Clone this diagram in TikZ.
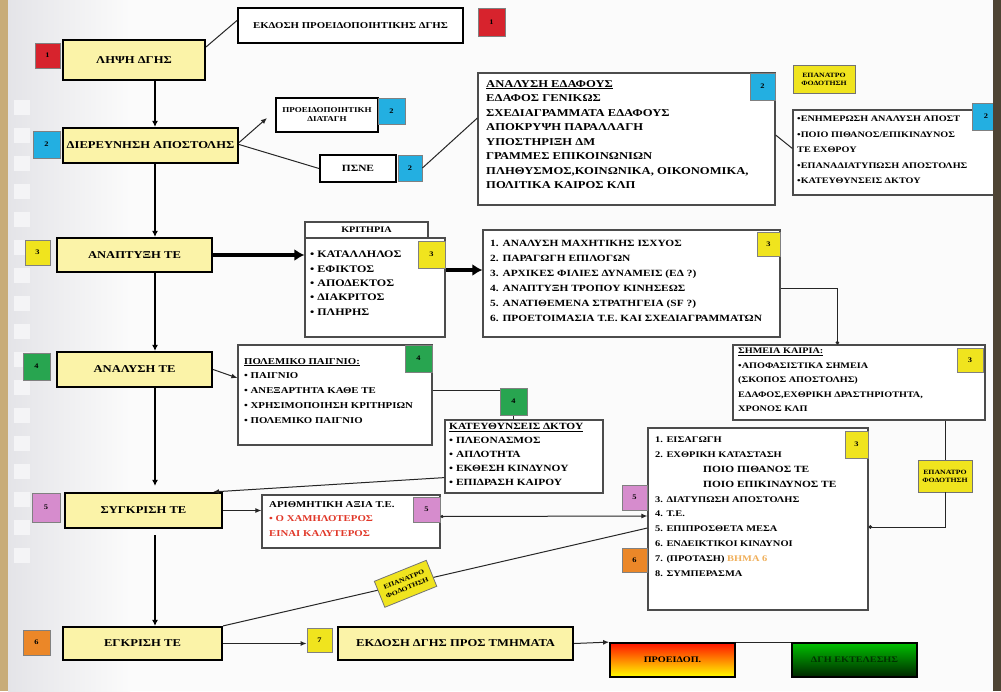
\documentclass[tikz,border=0pt]{standalone}
\usepackage{fontspec}
\setmainfont{Liberation Serif}[FakeStretch=1.2]
\usetikzlibrary{arrows.meta,calc}
\definecolor{mainY}{RGB}{251,243,168}
\definecolor{bRed}{RGB}{215,35,45}
\definecolor{bBlue}{RGB}{35,175,225}
\definecolor{bYel}{RGB}{240,228,30}
\definecolor{bGreen}{RGB}{40,165,80}
\definecolor{bPink}{RGB}{214,140,205}
\definecolor{bOrange}{RGB}{235,135,40}
\definecolor{txtRed}{RGB}{225,55,40}
\definecolor{txtOrange}{RGB}{240,175,90}
\definecolor{tanedge}{RGB}{200,172,120}
\definecolor{darkedge}{RGB}{78,68,52}
\definecolor{paper}{RGB}{251,251,251}
\definecolor{stripc}{RGB}{228,228,232}
\newcommand\myfs[2]{\fontsize{#1}{#2}\selectfont}
\newcommand\bx[7]{\node[#2, minimum width={(#5-#3)*1pt}, minimum height={(#6-#4)*1pt}] (#1) at ({(#3+#5)/2},{(#4+#6)/2}) {#7};}
\begin{document}
\begin{tikzpicture}[x=1pt,y=-1pt,
  mainbox/.style={draw=black, line width=2.2pt, fill=mainY, inner sep=0pt, font=\bfseries\myfs{10.5}{12}},
  thickbox/.style={draw=black, line width=2pt, fill=white, inner sep=0pt, align=center, font=\bfseries\myfs{9}{10}},
  wbox/.style={draw=black!70, line width=1.2pt, fill=white, inner sep=0pt},
  badge/.style={draw=black!50, line width=0.8pt, inner sep=0pt, font=\bfseries\myfs{7}{8}},
  yellabel/.style={draw=black!55, line width=0.8pt, fill=bYel, inner sep=0pt, align=center, font=\bfseries\myfs{6.5}{8}},
  txt/.style={anchor=north west, inner sep=0pt, align=left},
  link/.style={draw=black!85, line width=1pt},
  spine/.style={draw=black, line width=1.8pt, -{Latex[length=6pt,width=6pt]}},
  tip/.style={-{Latex[length=6pt,width=5pt]}},
  fat/.style={draw=black, line width=3.5pt, -{Latex[length=10pt,width=12pt]}},
]
\useasboundingbox (0,0) rectangle (1001,691);
% background
\fill[paper] (0,0) rectangle (1001,691);
\shade[left color=stripc, right color=paper] (8,0) rectangle (130,691);
\foreach \yy in {100,128,...,560} \fill[white!60!stripc] (14,\yy) rectangle (30,\yy+15);
\fill[tanedge] (0,0) rectangle (8,691);

% main column
\bx{lipsi}{mainbox}{63}{40}{205}{80}{ΛΗΨΗ ΔΓΗΣ}
\bx{dier}{mainbox}{63}{128}{238}{163}{ΔΙΕΡΕΥΝΗΣΗ ΑΠΟΣΤΟΛΗΣ}
\bx{anapt}{mainbox}{57}{238}{212}{272}{ΑΝΑΠΤΥΞΗ ΤΕ}
\bx{anal}{mainbox}{57}{352}{212}{387}{ΑΝΑΛΥΣΗ ΤΕ}
\bx{sygk}{mainbox}{65}{493}{222}{528}{ΣΥΓΚΡΙΣΗ ΤΕ}
\bx{egk}{mainbox}{63}{627}{222}{660}{ΕΓΚΡΙΣΗ ΤΕ}
\bx{ekd}{mainbox}{338}{627}{573}{660}{ΕΚΔΟΣΗ ΔΓΗΣ ΠΡΟΣ ΤΜΗΜΑΤΑ}

\bx{b1}{badge,fill=bRed}{35}{43}{60}{68}{1}
\bx{b2}{badge,fill=bBlue}{33}{131}{60}{158}{2}
\bx{b3}{badge,fill=bYel}{25}{240}{50}{265}{3}
\bx{b4}{badge,fill=bGreen}{23}{353}{50}{380}{4}
\bx{b5}{badge,fill=bPink}{32}{493}{60}{522}{5}
\bx{b6}{badge,fill=bOrange}{23}{630}{50}{655}{6}
\bx{b7}{badge,fill=bYel}{307}{628}{332}{652}{7}

% top boxes
\bx{ekdP}{thickbox}{238}{8}{463}{43}{ΕΚΔΟΣΗ ΠΡΟΕΙΔΟΠΟΙΗΤΙΚΗΣ ΔΓΗΣ}
\bx{b1r}{badge,fill=bRed}{478}{8}{505}{36}{1}
\bx{proeid}{thickbox,font=\bfseries\myfs{7.5}{9}}{276}{98}{378}{132}{ΠΡΟΕΙΔΟΠΟΙΗΤΙΚΗ\\ΔΙΑΤΑΓΗ}
\bx{b2p}{badge,fill=bBlue}{378}{98}{405}{124}{2}
\bx{psne}{thickbox,font=\bfseries\myfs{9.5}{10}}{320}{155}{396}{182}{ΠΣΝΕ}
\bx{b2s}{badge,fill=bBlue}{398}{155}{422}{181}{2}

\bx{edafos}{wbox}{478}{73}{775}{205}{}
\node[txt, font=\bfseries\myfs{10.5}{14.5}] (edafosT) at (486,80) {\underline{ΑΝΑΛΥΣΗ ΕΔΑΦΟΥΣ}\\ΕΔΑΦΟΣ ΓΕΝΙΚΩΣ\\ΣΧΕΔΙΑΓΡΑΜΜΑΤΑ ΕΔΑΦΟΥΣ\\ΑΠΟΚΡΥΨΗ ΠΑΡΑΛΛΑΓΗ\\ΥΠΟΣΤΗΡΙΞΗ ΔΜ\\ΓΡΑΜΜΕΣ ΕΠΙΚΟΙΝΩΝΙΩΝ\\ΠΛΗΘΥΣΜΟΣ,ΚΟΙΝΩΝΙΚΑ, ΟΙΚΟΝΟΜΙΚΑ,\\ΠΟΛΙΤΙΚΑ ΚΑΙΡΟΣ ΚΛΠ};
\bx{b2e}{badge,fill=bBlue}{750}{73}{775}{100}{2}

\bx{epan1}{yellabel}{793}{65}{855}{93}{ΕΠΑΝΑΤΡΟ\\ΦΟΔΟΤΗΣΗ}

\bx{enim}{wbox}{793}{110}{1012}{195}{}
\node[txt, font=\bfseries\myfs{8.5}{15.5}] (enimT) at (797,116) {•ΕΝΗΜΕΡΩΣΗ ΑΝΑΛΥΣΗ ΑΠΟΣΤ\\•ΠΟΙΟ ΠΙΘΑΝΟΣ/ΕΠΙΚΙΝΔΥΝΟΣ\\ΤΕ ΕΧΘΡΟΥ\\•ΕΠΑΝΑΔΙΑΤΥΠΩΣΗ ΑΠΟΣΤΟΛΗΣ\\•ΚΑΤΕΥΘΥΝΣΕΙΣ ΔΚΤΟΥ};
\bx{b2n}{badge,fill=bBlue}{972}{103}{1000}{130}{2}

% criteria
\bx{kritH}{wbox}{305}{222}{428}{238}{\bfseries\myfs{8.5}{9}ΚΡΙΤΗΡΙΑ}
\bx{krit}{wbox}{305}{238}{445}{337}{}
\node[txt, font=\bfseries\myfs{10}{14.3}] (kritT) at (310,251) {• ΚΑΤΑΛΛΗΛΟΣ\\• ΕΦΙΚΤΟΣ\\• ΑΠΟΔΕΚΤΟΣ\\• ΔΙΑΚΡΙΤΟΣ\\• ΠΛΗΡΗΣ};
\bx{b3k}{badge,fill=bYel}{418}{241}{445}{268}{3}

\bx{list3}{wbox}{483}{230}{780}{337}{}
\node[txt, font=\bfseries\myfs{9.5}{15}] (list3T) at (490,240) {1. ΑΝΑΛΥΣΗ ΜΑΧΗΤΙΚΗΣ ΙΣΧΥΟΣ\\2. ΠΑΡΑΓΩΓΗ ΕΠΙΛΟΓΩΝ\\3. ΑΡΧΙΚΕΣ ΦΙΛΙΕΣ ΔΥΝΑΜΕΙΣ (ΕΔ ?)\\4. ΑΝΑΠΤΥΞΗ ΤΡΟΠΟΥ ΚΙΝΗΣΕΩΣ\\5. ΑΝΑΤΙΘΕΜΕΝΑ ΣΤΡΑΤΗΓΕΙΑ (SF ?)\\6. ΠΡΟΕΤΟΙΜΑΣΙΑ Τ.Ε. ΚΑΙ ΣΧΕΔΙΑΓΡΑΜΜΑΤΩΝ};
\bx{b3l}{badge,fill=bYel}{757}{232}{780}{256}{3}

\bx{kairia}{wbox}{733}{345}{985}{420}{}
\node[txt, font=\bfseries\myfs{8.5}{14.5}] (kairiaT) at (738,348) {\underline{ΣΗΜΕΙΑ ΚΑΙΡΙΑ:}\\•ΑΠΟΦΑΣΙΣΤΙΚΑ ΣΗΜΕΙΑ\\(ΣΚΟΠΟΣ ΑΠΟΣΤΟΛΗΣ)\\ΕΔΑΦΟΣ,ΕΧΘΡΙΚΗ ΔΡΑΣΤΗΡΙΟΤΗΤΑ,\\ΧΡΟΝΟΣ ΚΛΠ};
\bx{b3c}{badge,fill=bYel}{957}{348}{983}{372}{3}

% war game
\bx{polem}{wbox}{238}{345}{432}{445}{}
\node[txt, font=\bfseries\myfs{9}{14.8}] (polemT) at (244,358) {\underline{ΠΟΛΕΜΙΚΟ ΠΑΙΓΝΙΟ:}\\• ΠΑΙΓΝΙΟ\\• ΑΝΕΞΑΡΤΗΤΑ ΚΑΘΕ ΤΕ\\• ΧΡΗΣΙΜΟΠΟΙΗΣΗ ΚΡΙΤΗΡΙΩΝ\\• ΠΟΛΕΜΙΚΟ ΠΑΙΓΝΙΟ};
\bx{b4p}{badge,fill=bGreen}{405}{345}{432}{372}{4}

\bx{kateu}{wbox}{445}{420}{603}{493}{}
\node[txt, font=\bfseries\myfs{9.5}{14}] (kateuT) at (449,423) {\underline{ΚΑΤΕΥΘΥΝΣΕΙΣ ΔΚΤΟΥ}\\• ΠΛΕΟΝΑΣΜΟΣ\\• ΑΠΛΟΤΗΤΑ\\• ΕΚΘΕΣΗ ΚΙΝΔΥΝΟΥ\\• ΕΠΙΔΡΑΣΗ ΚΑΙΡΟΥ};

\bx{arith}{wbox}{262}{495}{440}{548}{}
\node[txt, font=\bfseries\myfs{9}{14.5}] (arithT) at (269,501) {ΑΡΙΘΜΗΤΙΚΗ ΑΞΙΑ Τ.Ε.\\\textcolor{txtRed}{• Ο ΧΑΜΗΛΟΤΕΡΟΣ}\\\textcolor{txtRed}{ΕΙΝΑΙ ΚΑΛΥΤΕΡΟΣ}};
\bx{b5a}{badge,fill=bPink}{413}{497}{440}{522}{5}

\bx{big}{wbox}{648}{428}{868}{610}{}
\node[txt, font=\bfseries\myfs{8.7}{14.8}] (bigT) at (655,437) {1. ΕΙΣΑΓΩΓΗ\\2. ΕΧΘΡΙΚΗ ΚΑΤΑΣΤΑΣΗ\\\hspace*{48pt}{\myfs{9.5}{14.8}ΠΟΙΟ ΠΙΘΑΝΟΣ ΤΕ}\\\hspace*{48pt}{\myfs{9.5}{14.8}ΠΟΙΟ ΕΠΙΚΙΝΔΥΝΟΣ ΤΕ}\\3. ΔΙΑΤΥΠΩΣΗ ΑΠΟΣΤΟΛΗΣ\\4. Τ.Ε.\\5. ΕΠΙΠΡΟΣΘΕΤΑ ΜΕΣΑ\\6. ΕΝΔΕΙΚΤΙΚΟΙ ΚΙΝΔΥΝΟΙ\\7. (ΠΡΟΤΑΣΗ) \textcolor{txtOrange}{ΒΗΜΑ 6}\\8. ΣΥΜΠΕΡΑΣΜΑ};
\bx{b3b}{badge,fill=bYel}{845}{431}{868}{458}{3}
\bx{b5b}{badge,fill=bPink}{622}{485}{647}{510}{5}
\bx{b6b}{badge,fill=bOrange}{622}{548}{647}{572}{6}

\bx{epan2}{yellabel}{918}{460}{972}{492}{ΕΠΑΝΑΤΡΟ\\ΦΟΔΟΤΗΣΗ}

% bottom result boxes
\bx{proe}{draw=black, line width=1.8pt, top color=red!85!orange, middle color=orange!90!yellow, bottom color=yellow, inner sep=0pt, font=\bfseries\myfs{8.5}{9}}{610}{643}{735}{677}{ΠΡΟΕΙΔΟΠ.}
\bx{dgi}{draw=black, line width=1.8pt, top color=green!75!black, bottom color=black!85!green, inner sep=0pt, font=\bfseries\myfs{8.5}{9}, text=black!80!green}{792}{643}{917}{677}{ΔΓΗ ΕΚΤΕΛΕΣΗΣ}

% connectors
\coordinate (sx) at (155,0);
\coordinate (kx) at (513.5,0);
\draw[spine] (lipsi.south -| sx) -- (dier.north -| sx);
\draw[spine] (dier.south -| sx) -- (anapt.north -| sx);
\draw[spine] (anapt.south -| sx) -- (anal.north -| sx);
\draw[spine] (anal.south -| sx) -- ($(sygk.north -| sx)+(0,-6)$);
\draw[spine] ($(sygk.south -| sx)+(0,6)$) -- (egk.north -| sx);

\draw[link] ($(lipsi.north east)+(0,8)$) -- ($(ekdP.west)+(0,-5)$);
\draw[link,tip] ($(dier.east)+(0,-3)$) -- ($(proeid.west)+(-8,3)$);
\draw[link] ($(dier.east)+(0,-1)$) -- (psne.west);
\draw[link] (b2s.east) -- ($(edafos.west)+(0,-21)$);
\draw[link] ($(edafos.east)+(0,-4)$) -- ($(enim.west)+(0,-4)$);
\draw[fat] (anapt.east) -- (krit.west |- anapt.east);
\draw[fat] ($(krit.east)+(0,-17.5)$) -- ($(list3.west)+(0,-13.5)$);
\draw[link,-{Circle[length=3.5pt]}] ($(list3.east)+(0,4.5)$) -| ($(kairia.north west)+(105,0)$);
\draw[link] (kairia.south -| epan2.north) -- (epan2.north);
\draw[link,-{Circle[length=3.5pt]}] (epan2.south) |- ($(big.east)+(0,8)$);
\draw[link,tip] (anal.east) -- ($(polem.west)+(0,-17)$);
\draw[link] ($(polem.east)+(0,-5)$) -| (kateu.north -| kx);
\bx{b4k}{badge,fill=bGreen}{500}{388}{527}{415}{4}
\draw[link,tip] ($(kateu.south west)+(0,-16)$) -- ($(sygk.north east)+(-10,0)$);
\draw[link,tip] (sygk.east) -- (sygk.east -| arith.west);
\draw[link,{Circle[length=3pt]}-{Latex[length=6pt,width=5pt]}] ($(arith.east)+(0,-5)$) -- ($(big.west)+(0,-3)$);
\coordinate (bigL) at ($(big.west)+(0,9)$);
\draw[link] (bigL) -- (egk.north east);
\node[yellabel, rotate=22, minimum width=56pt, minimum height=28pt, font=\bfseries\myfs{6.5}{9}] (epan3) at ($(bigL)!0.57!(egk.north east)$) {ΕΠΑΝΑΤΡΟ\\ΦΟΔΟΤΗΣΗ};
\draw[link,tip] (egk.east) -- (b7.west |- egk.east);
\draw[link,tip] (ekd.east) -- (proe.north west);
\draw[link] (proe.north east) -- (dgi.north west);

\fill[darkedge] (993,0) rectangle (1001,691);
\end{tikzpicture}
\end{document}
